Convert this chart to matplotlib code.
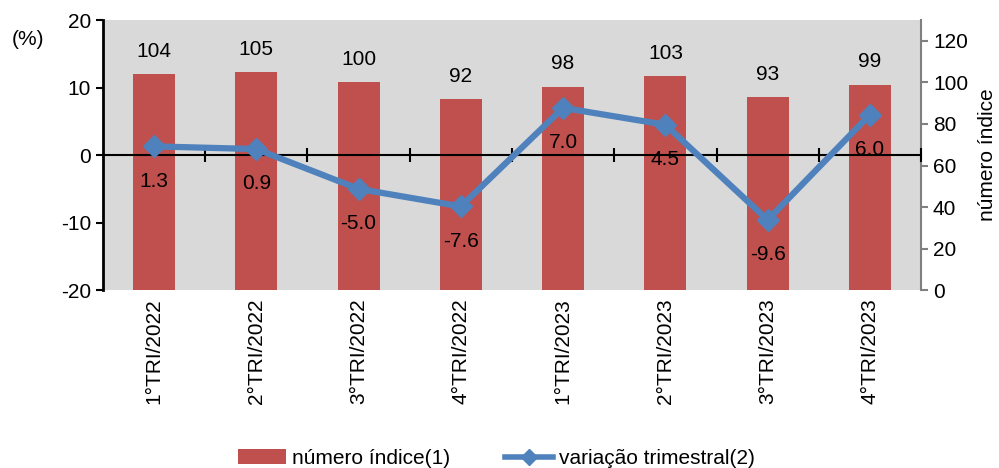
import matplotlib.pyplot as plt

plt.rcParams['font.family'] = ['Liberation Sans', 'DejaVu Sans']
plt.rcParams['axes.unicode_minus'] = False

trimestres = ["1°TRI/2022", "2°TRI/2022", "3°TRI/2022", "4°TRI/2022",
              "1°TRI/2023", "2°TRI/2023", "3°TRI/2023", "4°TRI/2023"]
numero_indice = [104, 105, 100, 92, 98, 103, 93, 99]
variacao = [1.3, 0.9, -5.0, -7.6, 7.0, 4.5, -9.6, 6.0]

fs = 15

fig = plt.figure(figsize=(9.99, 4.68), dpi=100)
ax = fig.add_axes([0.103, 0.38, 0.819, 0.577])
ax2 = ax.twinx()
ax.set_zorder(ax2.get_zorder() + 1)
ax.patch.set_visible(False)
ax2.patch.set_facecolor("#d9d9d9")
ax2.patch.set_visible(True)

x = list(range(len(trimestres)))

# barras no eixo da direita
bars = ax2.bar(x, numero_indice, width=0.41, color="#c0504d", zorder=2,
               label="número índice(1)")
for xi, v in zip(x, numero_indice):
    ax2.annotate(str(v), (xi, v), xytext=(0, 16.5), textcoords="offset points",
                 ha="center", va="center", fontsize=fs)
ax2.set_ylim(0, 130)
ax2.set_yticks(range(0, 121, 20))
ax2.tick_params(axis="y", labelsize=fs, colors="#808080", labelcolor="black",
                length=5, width=1.5)
ax2.set_ylabel("número índice", fontsize=fs, labelpad=7)
for s in ["top", "bottom", "left"]:
    ax2.spines[s].set_visible(False)
ax2.spines["right"].set_color("#808080")
ax2.spines["right"].set_linewidth(1.5)

# linha da variação no eixo da esquerda
line, = ax.plot(x, variacao, color="#4f81bd", linewidth=4.5, marker="D",
                markersize=11, zorder=4, label="variação trimestral(2)")
for xi, v in zip(x, variacao):
    ax.annotate(f"{v:.1f}", (xi, v), xytext=(0, -25), textcoords="offset points",
                ha="center", va="center", fontsize=fs, zorder=5)
ax.axhline(0, color="black", linewidth=1.5, zorder=3)
ax.set_ylim(-20, 20)
ax.set_yticks([-20, -10, 0, 10, 20])
ax.tick_params(axis="y", labelsize=fs, length=5, width=1.5)
ax.set_xlim(-0.5, len(x) - 0.5)
ax.set_xticks(x)
ax.set_xticklabels(trimestres, rotation=90, fontsize=fs)
ax.tick_params(axis="x", length=0, pad=6)
for s in ["top", "bottom", "right"]:
    ax.spines[s].set_visible(False)
ax.spines["left"].set_linewidth(2)

# marcas de divisão sobre a linha do zero
zero_ax = ax.secondary_xaxis(0.5)
zero_ax.set_xticks([i + 0.5 for i in x])
zero_ax.tick_params(axis="x", direction="inout", length=10, width=1.5,
                    labelbottom=False, labeltop=False)
zero_ax.spines["bottom"].set_visible(False)
zero_ax.spines["top"].set_visible(False)

fig.text(0.012, 0.915, "(%)", fontsize=fs, va="center")

# legenda com marcador menor na linha
from matplotlib.lines import Line2D
leg_line = Line2D([], [], color="#4f81bd", linewidth=4, marker="D",
                  markersize=8, label="variação trimestral(2)")
fig.legend(handles=[bars, leg_line], loc="lower center", ncol=2, frameon=False,
           fontsize=fs, bbox_to_anchor=(0.497, -0.04), handlelength=2.3,
           columnspacing=2.6, handletextpad=0.3)

fig.savefig("out.png", dpi=100)
